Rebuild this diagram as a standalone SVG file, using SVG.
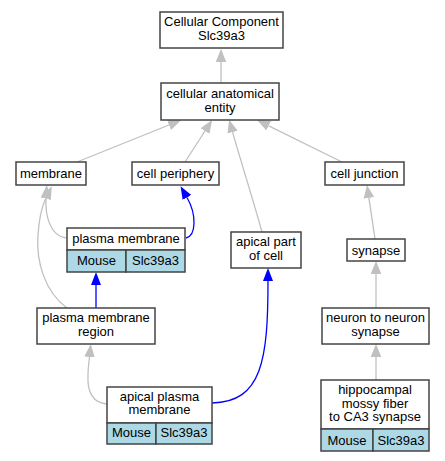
<svg xmlns="http://www.w3.org/2000/svg" width="445" height="461" viewBox="0 0 445 461">
<style>
.box{fill:#ffffff;stroke:#444444;stroke-width:1.5}
.cell{fill:#add8e6;stroke:#444444;stroke-width:1.5}
text{font-family:"Liberation Sans",Arial,sans-serif;font-size:13px;fill:#000000;text-anchor:middle}
.g{fill:none;stroke:#c0c0c0;stroke-width:1.3}
.b{fill:none;stroke:#0000ff;stroke-width:1.3}
</style>
<defs>
<marker id="ag" viewBox="0 -6 14 12" refX="0" refY="0" markerWidth="14" markerHeight="12" markerUnits="userSpaceOnUse" orient="auto"><path d="M0,-5.3 L13,0 L0,5.3 z" fill="#c0c0c0"/></marker>
<marker id="ab" viewBox="0 -6 14 12" refX="0" refY="0" markerWidth="14" markerHeight="12" markerUnits="userSpaceOnUse" orient="auto"><path d="M0,-5 L13,0 L0,5 z" fill="#0000ff"/></marker>
</defs>
<rect width="445" height="461" fill="#ffffff"/>
<g id="edges">
<path class="g" d="M221,83 L221,62" marker-end="url(#ag)"/>
<path class="g" d="M77,162 L169,125" marker-end="url(#ag)"/>
<path class="g" d="M185,162 L205,131" marker-end="url(#ag)"/>
<path class="g" d="M262,232 C252,196 238,152 232.6,132.2" marker-end="url(#ag)"/>
<path class="g" d="M342,162 L268.7,125.8" marker-end="url(#ag)"/>
<path class="g" d="M66,238 C50,236 45,215 46,198" marker-end="url(#ag)"/>
<path class="g" d="M67,308 C45,292 36,262 38,235 C39,220 42,206 46,198" marker-end="url(#ag)"/>
<path class="b" d="M96,308 L96,285" marker-end="url(#ab)"/>
<path class="b" d="M186,238 C196,236 197,215 187,197.5" marker-end="url(#ab)"/>
<path class="b" d="M212,403 C262,402 268,360 268,281" marker-end="url(#ab)"/>
<path class="g" d="M107,404 C95,403 87,395 88,375 C88,368 89,362 89.5,357" marker-end="url(#ag)"/>
<path class="g" d="M375,239 L368.9,197.9" marker-end="url(#ag)"/>
<path class="g" d="M376,308 L376,274" marker-end="url(#ag)"/>
<path class="g" d="M376,380 L376,357" marker-end="url(#ag)"/>
</g>
<g id="cellular_component">
<rect class="box" x="160" y="12" width="123" height="36"/>
<text x="221.5" y="26.3">Cellular Component</text>
<text x="221.5" y="39.8">Slc39a3</text>
</g>
<g id="cellular_anatomical_entity">
<rect class="box" x="161" y="83" width="118" height="37"/>
<text x="220" y="98">cellular anatomical</text>
<text x="220" y="111.5">entity</text>
</g>
<g id="membrane">
<rect class="box" x="16" y="162" width="70" height="23"/>
<text x="51" y="177.5">membrane</text>
</g>
<g id="cell_periphery">
<rect class="box" x="132" y="162" width="87" height="23"/>
<text x="175.5" y="177.5">cell periphery</text>
</g>
<g id="cell_junction">
<rect class="box" x="325" y="162" width="79" height="23"/>
<text x="364.5" y="177.5">cell junction</text>
</g>
<g id="plasma_membrane">
<rect class="box" x="67" y="228" width="118" height="22"/>
<rect class="cell" x="67" y="250" width="59" height="22"/>
<rect class="cell" x="126" y="250" width="59" height="22"/>
<text x="126" y="243">plasma membrane</text>
<text x="96.5" y="265">Mouse</text>
<text x="155.5" y="265">Slc39a3</text>
</g>
<g id="apical_part_of_cell">
<rect class="box" x="231" y="232" width="70" height="36"/>
<text x="266" y="246">apical part</text>
<text x="266" y="259.5">of cell</text>
</g>
<g id="synapse">
<rect class="box" x="347" y="239" width="58" height="22"/>
<text x="376" y="254.5">synapse</text>
</g>
<g id="plasma_membrane_region">
<rect class="box" x="37" y="308" width="118" height="36"/>
<text x="96" y="322">plasma membrane</text>
<text x="96" y="335.5">region</text>
</g>
<g id="neuron_to_neuron_synapse">
<rect class="box" x="322" y="308" width="107" height="36"/>
<text x="375.5" y="322">neuron to neuron</text>
<text x="375.5" y="335.5">synapse</text>
</g>
<g id="apical_plasma_membrane">
<rect class="box" x="107" y="387" width="105" height="36"/>
<rect class="cell" x="107" y="423" width="49" height="21"/>
<rect class="cell" x="156" y="423" width="56" height="21"/>
<text x="159.5" y="400.5">apical plasma</text>
<text x="159.5" y="414">membrane</text>
<text x="131.5" y="437">Mouse</text>
<text x="184" y="437">Slc39a3</text>
</g>
<g id="hippocampal_mossy_fiber_to_ca3_synapse">
<rect class="box" x="321" y="380" width="108" height="49"/>
<rect class="cell" x="321" y="429" width="52" height="22"/>
<rect class="cell" x="373" y="429" width="56" height="22"/>
<text x="375" y="394">hippocampal</text>
<text x="375" y="407.5">mossy fiber</text>
<text x="375" y="421">to CA3 synapse</text>
<text x="347" y="444.5">Mouse</text>
<text x="401" y="444.5">Slc39a3</text>
</g>
</svg>
